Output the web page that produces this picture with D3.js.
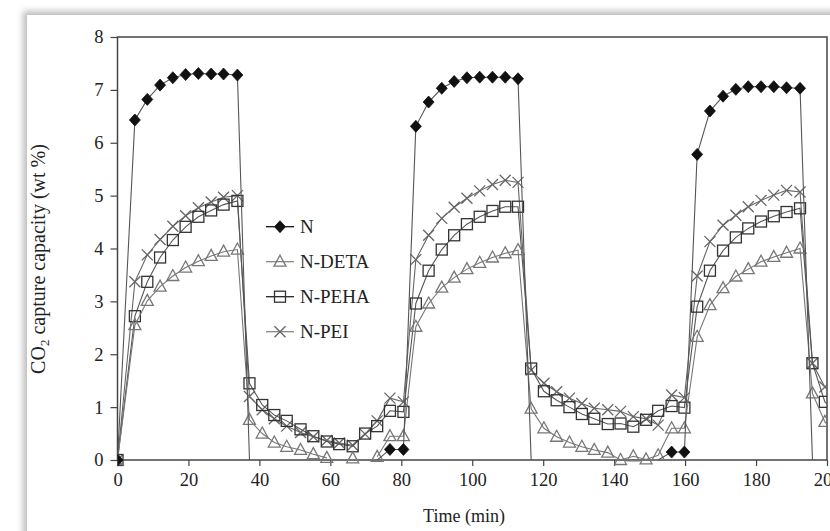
<!DOCTYPE html>
<html><head><meta charset="utf-8">
<script src="https://cdn.jsdelivr.net/npm/d3@7/dist/d3.min.js"></script>
<style>
html,body{margin:0;padding:0;background:#fff;}
svg{display:block;}
text{font-family:"Liberation Serif","Times New Roman",serif;fill:#222;}
</style></head>
<body>
<svg id="chart" width="830" height="531"></svg>
<script>
// ---- data (time in min, CO2 capture capacity in wt %) ----
const times = [0, 4.9, 8.4, 12.0, 15.6, 19.2, 22.8, 26.4, 29.9, 33.8,
  37.2, 40.8, 44.2, 47.7, 51.6, 55.2, 59.0, 62.5, 66.3, 69.8, 73.2, 76.8, 80.6,
  84.1, 87.7, 91.4, 94.9, 98.5, 102.1, 105.7, 109.3, 112.9,
  116.6, 120.2, 123.8, 127.4, 130.9, 134.4, 138.2, 141.8, 145.4, 149.0, 152.4, 156.2, 159.8,
  163.4, 167.0, 170.7, 174.3, 177.8, 181.4, 185.0, 188.6, 192.4,
  195.9, 199.4, 203.0];

const valuesN = [0, 6.43, 6.82, 7.09, 7.23, 7.29, 7.31, 7.30, 7.30, 7.28,
  0, null, null, null, null, null, null, null, null, null, 0, 0.20, 0.20,
  6.31, 6.77, 7.03, 7.16, 7.23, 7.24, 7.24, 7.24, 7.21,
  0, null, null, null, null, null, null, null, null, null, 0, 0.15, 0.15,
  5.78, 6.60, 6.88, 7.01, 7.06, 7.06, 7.06, 7.04, 7.03,
  0, null, null];
// points of N that only carry the line (no marker drawn)
const markerN = [1, 1, 1, 1, 1, 1, 1, 1, 1, 1,
  0, 0, 0, 0, 0, 0, 0, 0, 0, 0, 0, 1, 1,
  1, 1, 1, 1, 1, 1, 1, 1, 1,
  0, 0, 0, 0, 0, 0, 0, 0, 0, 0, 0, 1, 1,
  1, 1, 1, 1, 1, 1, 1, 1, 1,
  0, 0, 0];

const valuesDETA = [0, 2.55, 3.01, 3.28, 3.48, 3.64, 3.76, 3.86, 3.94, 3.98,
  0.76, 0.50, 0.33, 0.25, 0.19, 0.11, 0.04, null, 0.03, null, 0.06, 0.45, 0.45,
  2.52, 2.96, 3.26, 3.45, 3.61, 3.73, 3.83, 3.91, 3.97,
  0.97, 0.60, 0.44, 0.33, 0.25, 0.19, 0.14, 0.00, 0.07, 0.01, 0.09, 0.60, 0.60,
  2.33, 2.93, 3.25, 3.47, 3.61, 3.75, 3.84, 3.92, 4.00,
  1.26, 0.72, 0.45];

const valuesPEHA = [0, 2.72, 3.37, 3.83, 4.16, 4.41, 4.60, 4.72, 4.83, 4.90,
  1.45, 1.04, 0.85, 0.74, 0.58, 0.45, 0.35, 0.30, 0.26, 0.50, 0.64, 0.93, 0.91,
  2.96, 3.58, 3.98, 4.25, 4.46, 4.60, 4.71, 4.79, 4.79,
  1.73, 1.30, 1.13, 1.00, 0.87, 0.78, 0.68, 0.69, 0.63, 0.76, 0.93, 1.02, 0.99,
  2.90, 3.58, 3.96, 4.21, 4.38, 4.51, 4.61, 4.69, 4.76,
  1.83, 1.10, 0.90];

const valuesPEI = [0, 3.37, 3.88, 4.17, 4.42, 4.62, 4.77, 4.88, 4.97, 5.00,
  1.20, 0.95, 0.78, 0.64, 0.52, 0.44, 0.37, 0.32, 0.28, 0.49, 0.74, 1.17, 1.10,
  3.79, 4.25, 4.57, 4.78, 4.95, 5.09, 5.21, 5.29, 5.25,
  1.70, 1.45, 1.29, 1.17, 1.07, 0.98, 0.95, 0.92, 0.82, 0.78, 0.66, 1.23, 1.18,
  3.48, 4.13, 4.44, 4.63, 4.79, 4.91, 5.01, 5.10, 5.07,
  1.83, 1.38, 1.20];

const seriesNames = ["N", "N-DETA", "N-PEHA", "N-PEI"];
const xTicks = [0, 20, 40, 60, 80, 100, 120, 140, 160, 180, 200];
const yTicks = [0, 1, 2, 3, 4, 5, 6, 7, 8];

// ---- layout ----
const svg = d3.select("#chart");
const L = 117.5, R = 827, T = 37, B = 460;
const x = d3.scaleLinear().domain([0, 200]).range([L, R]);
const y = d3.scaleLinear().domain([0, 8]).range([B, T]);

// page panel with soft shadow
const defs = svg.append("defs");
const f = defs.append("filter").attr("id", "sh").attr("x", "-5%").attr("y", "-5%").attr("width", "110%").attr("height", "110%");
f.append("feGaussianBlur").attr("stdDeviation", 3);
svg.append("rect").attr("x", 23).attr("y", 11).attr("width", 900).attr("height", 600)
  .attr("fill", "#bdbdbd").attr("filter", "url(#sh)");
svg.append("rect").attr("x", 27).attr("y", 15).attr("width", 900).attr("height", 600).attr("fill", "#fff");

defs.append("clipPath").attr("id", "clip").append("rect")
  .attr("x", L).attr("y", T - 20).attr("width", R - L).attr("height", B - T + 40);

// axes
const gx = svg.append("g").attr("transform", `translate(0,${B})`)
  .call(d3.axisBottom(x).tickValues(xTicks).tickSize(6).tickPadding(7).tickFormat(d3.format("d")));
const gy = svg.append("g").attr("transform", `translate(${L},0)`)
  .call(d3.axisLeft(y).tickValues(yTicks).tickSize(7).tickPadding(7).tickFormat(d3.format("d")));
[gx, gy].forEach(g => {
  g.select(".domain").remove();
  g.selectAll(".tick line").attr("stroke", "#444").attr("stroke-width", 1.2);
  g.selectAll(".tick text").attr("font-size", 18.5).attr("fill", "#333")
    .style("font-family", '"Liberation Serif", serif');
});
// frame
svg.append("rect").attr("x", L).attr("y", T).attr("width", R - L).attr("height", B - T)
  .attr("fill", "none").attr("stroke", "#444").attr("stroke-width", 1.5);

// axis titles
svg.append("text").attr("x", 464).attr("y", 522).attr("text-anchor", "middle")
  .attr("font-size", 18).text("Time (min)");
const yl = svg.append("text").attr("transform", "translate(45,259) rotate(-90)")
  .attr("text-anchor", "middle").attr("font-size", 20);
yl.append("tspan").text("CO");
yl.append("tspan").attr("font-size", 13).attr("dy", 4).text("2");
yl.append("tspan").attr("dy", -4).text(" capture capacity (wt %)");

// series
const mk = (vals) => times.map((t, i) => ({ t, v: vals[i], i }));
const series = [
  { name: "N", data: mk(valuesN), line: "#555", mark: "diamond", stroke: "#111", fill: "#111", legendLine: "#111" },
  { name: "N-DETA", data: mk(valuesDETA), line: "#777", mark: "triangle", stroke: "#777", fill: "#fff", legendLine: "#888" },
  { name: "N-PEHA", data: mk(valuesPEHA), line: "#555", mark: "square", stroke: "#333", fill: "none", legendLine: "#222" },
  { name: "N-PEI", data: mk(valuesPEI), line: "#666", mark: "cross", stroke: "#666", fill: "none", legendLine: "#888" }
];

const lineGen = d3.line().defined(d => d.v !== null).x(d => x(d.t)).y(d => y(d.v));
const plot = svg.append("g").attr("clip-path", "url(#clip)");

function drawMarker(g, type, cx, cy, s) {
  if (type === "diamond") {
    g.append("path").attr("d", `M${cx},${cy - 6}L${cx + 5.5},${cy}L${cx},${cy + 6}L${cx - 5.5},${cy}Z`)
      .attr("fill", s.fill).attr("stroke", s.stroke).attr("stroke-width", 0.8);
  } else if (type === "triangle") {
    g.append("path").attr("d", `M${cx},${cy - 6.5}L${cx + 6},${cy + 4.5}L${cx - 6},${cy + 4.5}Z`)
      .attr("fill", "none").attr("stroke", s.stroke).attr("stroke-width", 1.3);
  } else if (type === "square") {
    g.append("rect").attr("x", cx - 5.5).attr("y", cy - 5.5).attr("width", 11).attr("height", 11)
      .attr("fill", "none").attr("stroke", s.stroke).attr("stroke-width", 1.3);
  } else if (type === "cross") {
    g.append("path").attr("d", `M${cx - 5.5},${cy - 5.5}L${cx + 5.5},${cy + 5.5}M${cx - 5.5},${cy + 5.5}L${cx + 5.5},${cy - 5.5}`)
      .attr("stroke", s.stroke).attr("stroke-width", 1.3).attr("fill", "none");
  }
}

// draw from back to front: PEI, PEHA, DETA, N
[series[3], series[2], series[1], series[0]].forEach(s => {
  plot.append("path").datum(s.data).attr("d", lineGen)
    .attr("fill", "none").attr("stroke", s.line).attr("stroke-width", 1.1);
  const g = plot.append("g");
  s.data.forEach(d => {
    if (d.v === null) return;
    if (s.name === "N" && !markerN[d.i]) return;
    drawMarker(g, s.mark, x(d.t), y(d.v), s);
  });
});

// legend
const legY = [226.7, 261.7, 296.7, 331.7];
series.forEach((s, i) => {
  const g = svg.append("g");
  g.append("line").attr("x1", 266).attr("x2", 294).attr("y1", legY[i]).attr("y2", legY[i])
    .attr("stroke", s.legendLine).attr("stroke-width", 1.3);
  drawMarker(g, s.mark, 280, legY[i], s);
  g.append("text").attr("x", 300).attr("y", legY[i]).attr("dy", "0.35em")
    .attr("font-size", 19).text(seriesNames[i]);
});
</script>
</body></html>
